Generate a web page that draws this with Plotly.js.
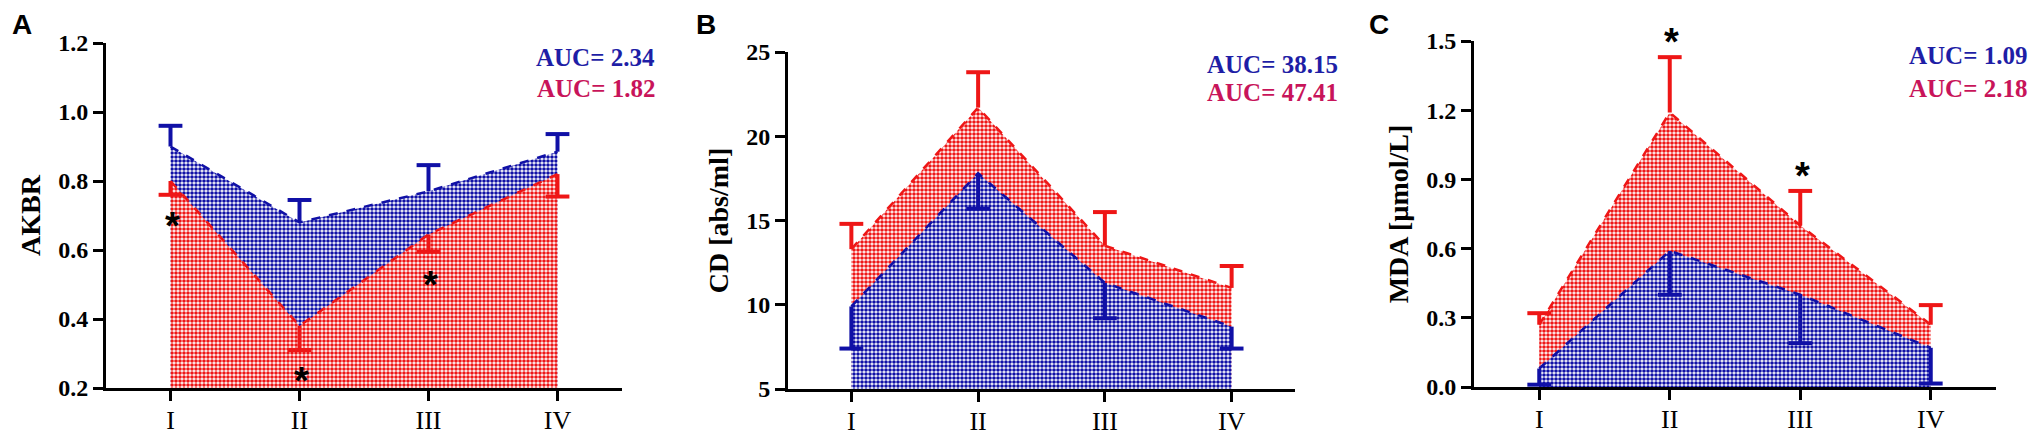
<!DOCTYPE html>
<html><head><meta charset="utf-8">
<script src="https://cdn.plot.ly/plotly-3.0.1.min.js"></script>
<style>html,body{margin:0;padding:0;background:#fff}#chart{width:2033px;height:437px}</style>
</head><body><div id="chart"></div>
<script>
// ---------- data ----------
const categories = ['I', 'II', 'III', 'IV'];

// Panel A: AKBR
const akbrBlueMean = [0.90, 0.68, 0.77, 0.885];
const akbrBlueErr  = [0.06, 0.065, 0.076, 0.051];
const akbrRedMean  = [0.80, 0.38, 0.645, 0.82];
const akbrRedErr   = [0.04, 0.07, 0.05, 0.065];
const akbrStarCat  = ['I', 'II', 'III'];
const akbrStarY    = [0.693, 0.243, 0.522];

// Panel B: CD [abs/ml]
const cdBlueMean = [9.9, 17.8, 11.3, 8.7];
const cdBlueErr  = [2.5, 2.1, 2.1, 1.3];
const cdRedMean  = [13.3, 21.7, 13.5, 11.0];
const cdRedErr   = [1.5, 2.1, 2.0, 1.3];

// Panel C: MDA [µmol/L]
const mdaBlueMean = [0.08, 0.59, 0.40, 0.17];
const mdaBlueErr  = [0.07, 0.19, 0.21, 0.155];
const mdaRedMean  = [0.27, 1.19, 0.70, 0.27];
const mdaRedErr   = [0.05, 0.24, 0.15, 0.085];
const mdaStarCat  = ['II', 'III'];   // asterisks sit just above the red error bars

const aucBlue = [2.34, 38.15, 1.09];
const aucRed  = [1.82, 47.41, 2.18];
const panelLetters = ['A', 'B', 'C'];
const yTitles = ['AKBR', 'CD [abs/ml]', 'MDA [µmol/L]'];

// ---------- style ----------
const W = 2033, H = 437;
const SERIF = '"Times New Roman", "Liberation Serif", Times, serif';
const SANS = 'Arial, "Liberation Sans", sans-serif';
const RED = '#ee1616', BLUE = '#1010a6';
const RED_TXT = '#c8145a', BLUE_TXT = '#1e1ea6';

function area(mean, err, dir, color, ax) {
  const zeros = mean.map(() => 0);
  const ends = mean.map((m, i) => dir > 0 ? m + err[i] : m - err[i]);
  return [
    {
      type: 'scatter', x: categories, y: mean, mode: 'lines',
      xaxis: 'x' + ax, yaxis: 'y' + ax,
      fill: 'tozeroy', fillcolor: color,
      fillpattern: { shape: '.', fgcolor: color, bgcolor: '#ffffff', size: 4, solidity: 0.65 },
      line: { color: color, width: 2.5, dash: 'dash' },
      error_y: { type: 'data', symmetric: false,
        array: dir > 0 ? err : zeros, arrayminus: dir > 0 ? zeros : err,
        color: color, thickness: 4, width: 0 },
      hoverinfo: 'skip', showlegend: false
    },
    {
      type: 'scatter', x: categories, y: ends, mode: 'markers',
      xaxis: 'x' + ax, yaxis: 'y' + ax,
      marker: { symbol: 'line-ew', size: 17, color: color, line: { color: color, width: 4 } },
      hoverinfo: 'skip', showlegend: false
    }
  ];
}

const data = [
  ...area(akbrBlueMean, akbrBlueErr, +1, BLUE, ''),
  ...area(akbrRedMean, akbrRedErr, -1, RED, ''),
  ...area(cdRedMean, cdRedErr, +1, RED, '2'),
  ...area(cdBlueMean, cdBlueErr, -1, BLUE, '2'),
  ...area(mdaRedMean, mdaRedErr, +1, RED, '3'),
  ...area(mdaBlueMean, mdaBlueErr, -1, BLUE, '3')
];

// panel geometry in pixels: [left, right, top, bottom]
const boxes = [[106, 622, 43, 388], [788, 1295, 52, 389], [1474, 1996, 41, 387]];
const yRanges = [[0.2, 1.2], [5, 25], [0, 1.5]];
const yDticks = [0.2, 5, 0.3];
const yFormats = ['.1f', 'd', '.1f'];

const layout = {
  width: W, height: H,
  margin: { l: 0, r: 0, t: 0, b: 0 },
  paper_bgcolor: '#fff', plot_bgcolor: 'rgba(0,0,0,0)',
  showlegend: false,
  annotations: []
};

boxes.forEach((b, i) => {
  const s = i === 0 ? '' : String(i + 1);
  layout['xaxis' + s] = {
    domain: [b[0] / W, b[1] / W], anchor: 'y' + s, type: 'category',
    range: [-0.5, 3.5], showline: true, linewidth: 3, linecolor: '#000',
    ticks: 'outside', ticklen: 10, tickwidth: 3, tickcolor: '#000',
    tickfont: { family: SERIF, size: 26, color: '#000' }, ticklabelstandoff: -3,
    showgrid: false, zeroline: false, fixedrange: true
  };
  layout['yaxis' + s] = {
    domain: [1 - b[3] / H, 1 - b[2] / H], anchor: 'x' + s,
    range: yRanges[i], tick0: yRanges[i][0], dtick: yDticks[i], tickformat: yFormats[i],
    showline: true, linewidth: 3, linecolor: '#000',
    ticks: 'outside', ticklen: 10, tickwidth: 3, tickcolor: '#000',
    tickfont: { family: SERIF, size: 24, color: '#000', weight: 'bold' },
    title: { text: yTitles[i], font: { family: SERIF, size: 28, color: '#000', weight: 'bold' }, standoff: 10 },
    showgrid: false, zeroline: false, fixedrange: true
  };
});

// panel letters
const letterX = [22, 706, 1379];
panelLetters.forEach((t, i) => layout.annotations.push({
  xref: 'paper', yref: 'paper', x: letterX[i] / W, y: 1 - 24 / H,
  xanchor: 'center', yanchor: 'middle', showarrow: false, text: t,
  font: { family: SANS, size: 28, color: '#000', weight: 'bold' }
}));

// AUC labels
const aucRight = [657, 1340, 2029];
const aucY = [[57, 88], [65, 93], [55, 88]];
aucBlue.forEach((v, i) => {
  layout.annotations.push({
    xref: 'paper', yref: 'paper', x: aucRight[i] / W, y: 1 - aucY[i][0] / H,
    xanchor: 'right', yanchor: 'middle', showarrow: false,
    text: 'AUC= ' + v.toFixed(2),
    font: { family: SERIF, size: 25, color: BLUE_TXT, weight: 'bold' }
  });
  layout.annotations.push({
    xref: 'paper', yref: 'paper', x: aucRight[i] / W, y: 1 - aucY[i][1] / H,
    xanchor: 'right', yanchor: 'middle', showarrow: false,
    text: 'AUC= ' + aucRed[i].toFixed(2),
    font: { family: SERIF, size: 25, color: RED_TXT, weight: 'bold' }
  });
});

// significance asterisks
function star(cat, y, ax, shift) {
  layout.annotations.push({
    xref: 'x' + ax, yref: 'y' + ax, x: cat, y: y, xshift: 2, yshift: shift - 8,
    xanchor: 'center', yanchor: 'middle', showarrow: false, text: '*',
    font: { family: SANS, size: 38, color: '#000', weight: 'bold' }
  });
}
akbrStarCat.forEach((c, i) => star(c, akbrStarY[i], '', 0));
mdaStarCat.forEach(c => {
  const k = categories.indexOf(c);
  star(c, mdaRedMean[k] + mdaRedErr[k], '3', 23);
});

Plotly.newPlot('chart', data, layout, { staticPlot: true, displayModeBar: false });
</script>
</body></html>
